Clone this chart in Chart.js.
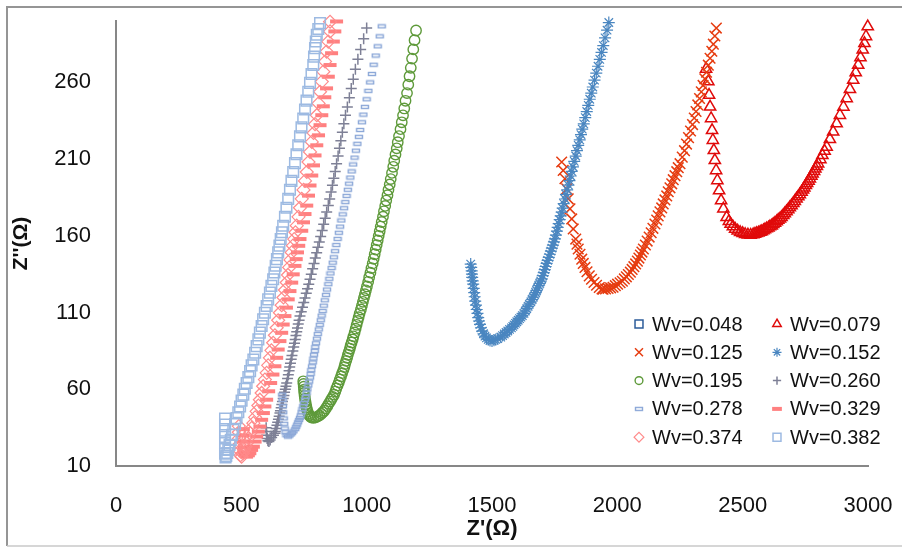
<!DOCTYPE html>
<html>
<head>
<meta charset="utf-8">
<script src="https://cdn.jsdelivr.net/npm/chart.js@4.4.1/dist/chart.umd.min.js"></script>
<style>
  html, body { margin: 0; padding: 0; background: #fff; }
  #wrap { width: 902px; height: 547px; }
</style>
</head>
<body>
<div id="wrap"><canvas id="nyquist" width="902" height="547"></canvas></div>
<script>
const seriesNames = ["Wv=0.048", "Wv=0.079", "Wv=0.125", "Wv=0.152", "Wv=0.195",
  "Wv=0.260", "Wv=0.278", "Wv=0.329", "Wv=0.374", "Wv=0.382"];
const xTicks = [0, 500, 1000, 1500, 2000, 2500, 3000];
const yTicks = [10, 60, 110, 160, 210, 260];

// [Z', Z''] pairs per water content
const wv048 = [];
const wv079 = [[2354,268.7],[2363,260.5],[2366,251.7],[2370,244.1],[2374,236.5],[2378,228.8],[2381,222.3],[2385,215.7],[2389,209.2],[2394,202.6],[2399,196.1],[2406,189.5],[2414,183],[2423,177.6],[2436,172.1],[2445,169.5],[2452,167.7],[2461,166],[2470,164.5],[2480,163.3],[2490,162.3],[2500,161.6],[2510,161],[2521,160.7],[2532,160.5],
  [2542,160.8],[2549,161.2],[2556,161.6],[2563,162],[2570,162.5],[2576,162.9],[2583,163.5],[2589,164.1],[2596,164.7],[2603,165.3],[2609,166],[2616,166.6],[2622,167.5],[2629,168.4],[2636,169.3],[2642,170.3],[2649,171.2],[2655,172.1],[2662,173.4],[2668,174.6],[2675,175.9],[2682,177.2],[2688,178.5],[2695,179.7],[2702,181.2],[2708,182.6],[2715,184.1],[2722,185.6],[2728,187],[2735,188.5],[2741,190],[2746,191.4],[2752,192.9],[2757,194.3],[2763,195.8],[2768,197.2],[2774,199],[2779,200.5],[2785,202.1],[2790,203.7],[2796,205.3],[2801,207],[2810,209.8],[2818,212.5],[2827,215.2],[2835,217.9],[2848,222.9],[2861,227.8],[2875,233.2],[2888,238.6],[2902,244],[2915,249.5],[2928,255.5],[2941,261.5],[2951,266.4],[2961,271.3],[2970,276.2],[2979,281.2],[2986,285.5],[2992,289.9],[2999,296.4]];
const wv125 = [[1778,208.1],[1784,202.6],[1791,197.2],[1798,190.6],[1804,184.1],[1811,177.6],[1818,171],[1824,164.5],[1834,157.9],[1839,154.6],[1844,151.4],[1851,148],[1858,144.8],[1864,142],[1871,139.4],[1879,136.6],[1888,133.9],[1897,131.7],[1907,129.6],[1917,127.8],[1928,126.3],[1939,125.4],
  [1943,125.2],[1953,125.4],[1963,125.7],[1973,126.1],[1983,126.5],[1992,127.5],[2001,128.5],[2011,129.4],[2020,130.4],[2028,131.9],[2036,133.3],[2044,134.8],[2052,136.3],[2059,138.1],[2066,139.9],[2073,141.7],[2080,143.5],[2086,145.5],[2092,147.5],[2098,149.4],[2104,151.4],[2112,154],[2119,156.6],[2127,159.2],[2135,162],[2142,164.9],[2150,167.7],[2157,170.3],[2163,173],[2170,175.6],[2177,178.2],[2183,180.8],[2190,183.4],[2197,186],[2203,188.7],[2210,191.3],[2217,193.9],[2223,196.6],[2230,199.2],[2237,201.8],[2243,204.4],[2250,207],[2259,211.3],[2268,215.5],[2276,219.8],[2284,224],[2292,228.3],[2300,232.5],[2307,236.8],[2314,241],[2321,245.3],[2328,249.5],[2335,253.8],[2342,258],[2349,262.3],[2356,266.6],[2363,271.2],[2370,275.7],[2377,280.3],[2383,284.9],[2389,290.2],[2395,295.4]];
const wv152 = [[1415,141.6],[1417,139.4],[1419,137.2],[1420,135],[1421,132.9],[1423,130.7],[1425,128.5],[1427,125.8],[1429,123],[1431,120.3],[1433,117.5],[1436,114.8],[1439,112],[1442,109.4],[1445,106.7],[1448,104.5],[1452,102.3],[1456,100.1],[1461,97.9],[1466,96.2],[1472,94.6],[1478,93.5],[1485,92.5],[1492,91.8],
  [1500,91.5],[1508,92],[1515,92.5],[1523,93],[1535,94],[1542,95],[1549,96],[1556,97],[1563,98],[1570,99],[1577.5,100],[1583,101],[1588,102],[1593.5,103],[1599,104],[1604.5,105],[1610,106],[1615.5,107],[1621,108],[1627.5,109.5],[1633,111],[1638.5,112.5],[1644,114],[1649,115.5],[1655,117],[1660,118.5],[1665.5,120],[1670,121.5],[1674,123],[1678,124.5],[1682,126],[1686,127.5],[1690.5,129],[1694.5,130.5],[1698.5,132],[1702.5,134],[1706.5,136],[1710.5,138],[1714,140],[1718,142],[1722,144],[1726.5,146],[1731,148],[1735,150],[1739,152],[1743,154],[1747,156],[1751,158],[1755,160.5],[1759,163],[1762,165.5],[1766,168],[1770,170.5],[1774,173],[1778,175.5],[1782,178],[1786,181],[1791,184],[1795,187],[1800,190],[1805,193],[1809,196],[1814,199],[1818,202],[1823,205],[1828,208.5],[1834,212],[1839,215.5],[1844,219],[1850,222.5],[1855,226],[1860,229.5],[1866,233],[1872,237],[1878,241],[1884,245],[1890,249],[1896,253],[1902,257],[1909,261.5],[1916,266],[1923,270.5],[1930,275],[1937,279.5],[1944,284],[1951,289],[1959,294],[1966,299]];
const wv195 = [[1197,293.8],[1191,287.5],[1186,281.5],[1181,275.5],[1176,269.5],[1171,264],[1166,258.5],[1161,253],[1155,248],[1150,243],[1145,238.5],[1140,234],[1135,229.5],[1129,225],[1124,221],[1120,217],[1115,213],[1110,209],[1106,205],[1101,201],[1096,197],[1092,193.5],[1087,190],[1083,186.5],[1078,183],[1074,179.5],[1069,176],[1065,172.5],[1060,169],[1056,166],[1052,163],[1048,160],[1044,157],[1040,154],[1036,151],[1032,148],[1028,145],[1024,142],[1019,139],[1015,136],[1010,133],[1006,130],[1001,127],[997,124.5],[993,122],[989,119.5],[985,117],[981,114.5],[977,112],[972,109.5],[968,107],[964,104.5],[960,102],[956,99.5],[952,97],[947,94.5],[944,92.5],[940,90.5],[936,88.5],[933,86.5],[929,84.5],[925,82.5],[922,80.5],[918,78.5],[914,76.5],[911,74.5],[907,72.5],[902,70.5],[898,68.5],[893,66.5],[889,64.5],[884,62.5],[879,60.5],[875,58.5],[870,56.5],[865,55],[859,53.5],[854,52],[848,50.5],[843,49],[837,47.5],[831,46],[825,45],[819,44],[812,43],[805,42.3],[797,41.7],[789,41.4],[781,41.6],
  [776,42.1],[771,43],[768,44],[765,45.3],[762,46.7],[760,48.3],[758,50],[756,52],[754,53.9],[752.5,55.8],[751,57.8],[750,59.7],[749,61.7],[748,63.5],[747,65.2]];
const wv260 = [[1000,295.4],[988,288.5],[976,281.5],[965,275],[955,268.5],[946.5,262],[938.5,256],[931,250],[923,244],[915.5,238.5],[909,233],[903,227.5],[897,222],[891.5,217],[886,212],[880,207],[874.5,202],[869,197.5],[863.5,193],[858,188.5],[852.5,184],[847,179.7],[840.5,175.5],[834.5,171.5],[828.5,167.5],[822.5,163.5],[816.5,159.5],[811,156],[805.5,152.5],[800.5,149],[795,145.5],[790,142],[784.5,138.5],[779,135],[774,131.7],[769,128.5],[764,125.5],[759,122.5],[754,119.5],[749,116.5],[744,113.5],[739,110.5],[734,107.7],[730.5,105],[727,102.5],[724,100],[721,97.5],[718,95],[715,92.5],[712,90],[709,87.5],[705.5,85],[702,82],[699,79.5],[696,77],[693,74.5],[690.5,72],[687.5,69.5],[684.5,67],[681,64.1],[678,62],[675.5,60],[672.5,58],[670,56],[667,54],[664,52],[661.5,50],[659,48],[656,46],[654,44.5],[651,42.5],[648,40.5],[645,38.5],[642,36.5],[639,34.5],[635.5,32.5],[634,31.4],[628,30],[621,28.5],[615,27],[610,25.9],
  [606,26.5],[603,28],[601,30],[600,32.5],[599,35]];
const wv278 = [[1060,296.5],[1052,290],[1044,283.5],[1036,277.5],[1028,271.5],[1021,265.5],[1014,260],[1007,254.5],[1000,249],[993,244],[987,239],[981,234],[974,229],[969,224.5],[963,220],[957,215.5],[951.5,211],[946,206.5],[940,202],[935,198],[930,194],[925,190],[920,186],[915,182],[910,178],[904.5,174],[899,170],[894,166],[889,162],[884,158],[879,154],[874,150],[869,146],[864.5,142.5],[860,139],[855.5,135.5],[851,132],[847,128.5],[842,125],[838,121.5],[833,118],[829,114.5],[824.5,111],[820.5,108],[817,105],[813,102],[809,99],[805,96],[801.5,93],[798,90],[795,87.5],[793,85],[790,82.5],[787.5,80],[785,77.5],[782,75],[779,72.5],[776.5,70],[774,67.6],[770.5,65],[767,62.5],[763.5,60],[760,57.5],[756.5,55],[754,53.2],[750,51],[747,49],[744,47],[740.5,45],[737,43],[734,41.4],[730.5,40],[726.5,38.5],[723,37],[719,35.5],[715,34],[708,32.6],[702.5,31.6],[697,30.6],[692,29.8],[686,29.2],
  [680,30],[676,32],[673,34.5],[671,37.5],[669,41],[667,45],[666,49],[664.5,53],[663,56.5]];
const wv329 = [[880,299.7],[873,293.2],[867,286.6],[860,279],[854,271.3],[847,263.7],[840,256.1],[833,250.3],[827,244.4],[821,238.6],[814,232.1],[808,225.5],[801,219],[794,212.4],[788,205.9],[781,199.3],[774,192.8],[768,186.2],[761,179.7],[754,174.2],[748,168.8],[741,163.3],[734,157.9],[729,153.5],[724,149.2],[719,144.8],[714,140.4],[707,134.9],[701,129.5],[694,124],[687,118.6],[680,113.2],[674,107.7],[667,102.2],[661,96.8],[654,91.4],[647,85.9],[641,80.5],[634,75],[626,69.6],[617,64.1],[609,58.7],[601,53.2],[594,48.8],[588,44.5],[581,40.1],[574,35.7],[568,32.4],[561,29.2],[555,25.9],[548,22.6],[541,20.5],[534,18.3],[528,17],[521,16.1],
  [515,17],[512,19],[510,22],[509,26],[508,30],[508,34]];
const wv374 = [[854,299.5],[854,293.2],[847,286.6],[840,280.1],[834,273.6],[827,267],[821,260.5],[814,253.9],[808,246.3],[801,238.6],[794,232.8],[788,227],[781,221.2],[774,214.7],[768,208.1],[761,201.6],[754,195.8],[748,189.9],[741,184.1],[734,178.3],[728,172.4],[721,166.6],[716,162.3],[711,157.9],[706,153.6],[701,149.2],[696,144.3],[691,139.4],[686,134.5],[681,129.6],[674,124.7],[668,119.8],[661,114.8],[654,109.9],[647,105],[641,100.1],[634,95.2],[627,90.3],[620,85.4],[614,80.5],[607,75.6],[601,70.7],[594,66.3],[587,62],[581,57.6],[574,53.2],[568,49.4],[561,45.6],[555,41.7],[548,37.9],[541,34.7],[535,31.4],[528,28.2],[521,24.9],[516,22.7],[511,20.5],[506,18.3],[501,16.1],
  [497,17],[494,20],[492,24],[491,28],[490,32],[490,36]];
const wv382 = [[814,298.6],[807,294.8],[801,291],[797,286.6],[794,282.3],[790,276.8],[787,271.3],[780,265.5],[774,259.7],[767,253.9],[760,248.1],[754,242.3],[747,236.5],[740,230.7],[734,224.8],[727,219],[720,213.2],[714,207.4],[707,201.6],[700,195.8],[694,190],[687,184.1],[680,178.3],[674,172.4],[667,166.6],[662,162.3],[657,157.9],[652,153.6],[647,149.2],[642,144.8],[637,140.5],[632,136.1],[627,131.7],[620,127.4],[614,123],[607,118.6],[601,114.3],[594,109.9],[587,105.6],[581,101.2],[574,96.9],[568,92.5],[561,88.1],[555,83.8],[548,79.4],[541,75.6],[535,71.8],[528,67.9],[521,64.1],[514,60.3],[508,56.5],[501,52.6],[495,48.8],[488,45],[481,41.2],[475,37.4],[468,33.6],[463,30.3],[458,27],[453,23.8],[448,20.5],[444,18.5],[440,16.5],[437,15.5],
  [435,18],[435,21],[435,25],[435,29],[435,33],[435,37],[435,41]];

const seriesData = [wv048, wv079, wv125, wv152, wv195, wv260, wv278, wv329, wv374, wv382];

// small outlined bar used as the Wv=0.278 marker
function smallBox(color) {
  var c = document.createElement("canvas");
  c.width = 10;
  c.height = 6;
  var g = c.getContext("2d");
  g.strokeStyle = color;
  g.lineWidth = 1.4;
  g.strokeRect(1.5, 1.5, 7, 3);
  return c;
}

const markers = [
  { style: "rect", color: "#2C5C9A", radius: 7.5, width: 1.5 },
  { style: "triangle", color: "#E00A0A", radius: 6.5, width: 1.5 },
  { style: "crossRot", color: "#E63C10", radius: 7.5, width: 1.5 },
  { style: "star", color: "#4A86C0", radius: 6, width: 1.2 },
  { style: "circle", color: "#5E9A3A", radius: 5.2, width: 1.4 },
  { style: "cross", color: "#7E8096", radius: 5.5, width: 1.5 },
  { style: smallBox("#8CA8D8"), color: "#8CA8D8", radius: 5, width: 1.4 },
  { style: "line", color: "#FF8080", radius: 6.5, width: 4 },
  { style: "rectRot", color: "#FF8A8A", radius: 6.5, width: 1.2 },
  { style: "rect", color: "#9DBAE2", radius: 7.5, width: 1.5 }
];

const fontFamily = "'Liberation Sans', Arial, sans-serif";

var datasets = seriesData.map(function (pts, i) {
  return {
    label: seriesNames[i],
    data: pts.map(function (p) { return { x: p[0], y: p[1] }; }),
    pointStyle: markers[i].style,
    pointRadius: markers[i].radius,
    pointBorderWidth: markers[i].width,
    pointBorderColor: markers[i].color,
    pointBackgroundColor: "rgba(0,0,0,0)",
    pointHoverRadius: markers[i].radius,
    order: -i,
    clip: false
  };
});

// outer frame of the figure
const frame = {
  id: "frame",
  beforeDraw: function (chart) {
    var ctx = chart.ctx;
    ctx.save();
    ctx.fillStyle = "#fff";
    ctx.fillRect(0, 0, chart.width, chart.height);
    ctx.strokeStyle = "#959595";
    ctx.lineWidth = 2;
    ctx.beginPath();
    ctx.moveTo(7, 546);
    ctx.lineTo(7, 7);
    ctx.lineTo(902, 7);
    ctx.stroke();
    ctx.strokeStyle = "#c8c8c8";
    ctx.lineWidth = 1.5;
    ctx.beginPath();
    ctx.moveTo(7, 546);
    ctx.lineTo(902, 546);
    ctx.stroke();
    ctx.restore();
  }
};

// two-column legend in the lower right of the plot
const legendGrid = {
  id: "legendGrid",
  afterDraw: function (chart) {
    var ctx = chart.ctx;
    ctx.save();
    ctx.font = "20px " + fontFamily;
    ctx.textBaseline = "middle";
    chart.data.datasets.forEach(function (ds, i) {
      var col = i % 2;
      var row = Math.floor(i / 2);
      var mx = col ? 777 : 639;
      var my = 324 + row * 28.3;
      ctx.strokeStyle = ds.pointBorderColor;
      ctx.fillStyle = "rgba(0,0,0,0)";
      ctx.lineWidth = ds.pointBorderWidth;
      Chart.helpers.drawPoint(ctx, {
        pointStyle: ds.pointStyle,
        radius: ds.pointRadius * 0.75,
        rotation: 0,
        borderWidth: ds.pointBorderWidth
      }, mx, my);
      ctx.fillStyle = "#111";
      ctx.fillText(ds.label, mx + 13, my + 1);
    });
    ctx.restore();
  }
};

function plainNumber(v) {
  return String(v);
}

new Chart(document.getElementById("nyquist"), {
  type: "scatter",
  data: { datasets: datasets },
  options: {
    responsive: false,
    animation: false,
    devicePixelRatio: 1,
    layout: { padding: { top: 21, right: 34, left: 0, bottom: 0 } },
    plugins: {
      legend: { display: false },
      tooltip: { enabled: false }
    },
    scales: {
      x: {
        type: "linear",
        min: 0,
        max: 3000,
        grid: { display: false, drawTicks: false },
        border: { display: true, color: "#878787", width: 2 },
        afterBuildTicks: function (axis) {
          axis.ticks = xTicks.map(function (v) { return { value: v }; });
        },
        afterFit: function (axis) {
          axis.height = 81;
          axis.paddingLeft = 0;
          axis.paddingRight = 0;
        },
        ticks: {
          padding: 27,
          color: "#111",
          font: { family: fontFamily, size: 22 },
          maxRotation: 0,
          callback: plainNumber
        },
        title: {
          display: true,
          text: "Z'(\u03A9)",
          color: "#111",
          font: { family: fontFamily, size: 22, weight: "bold" },
          padding: { top: 0, bottom: 5 }
        }
      },
      y: {
        type: "linear",
        min: 10,
        max: 300,
        grid: { display: false, drawTicks: false },
        border: { display: true, color: "#878787", width: 2 },
        afterBuildTicks: function (axis) {
          axis.ticks = yTicks.map(function (v) { return { value: v }; });
        },
        afterFit: function (axis) {
          axis.width = 116;
          axis.paddingTop = 0;
          axis.paddingBottom = 0;
        },
        ticks: {
          padding: 25,
          color: "#111",
          font: { family: fontFamily, size: 22 },
          callback: plainNumber
        },
        title: {
          display: true,
          text: "Z''(\u03A9)",
          color: "#111",
          font: { family: fontFamily, size: 21, weight: "bold" },
          padding: { top: 9, bottom: 0 }
        }
      }
    }
  },
  plugins: [frame, legendGrid]
});
</script>
</body>
</html>
